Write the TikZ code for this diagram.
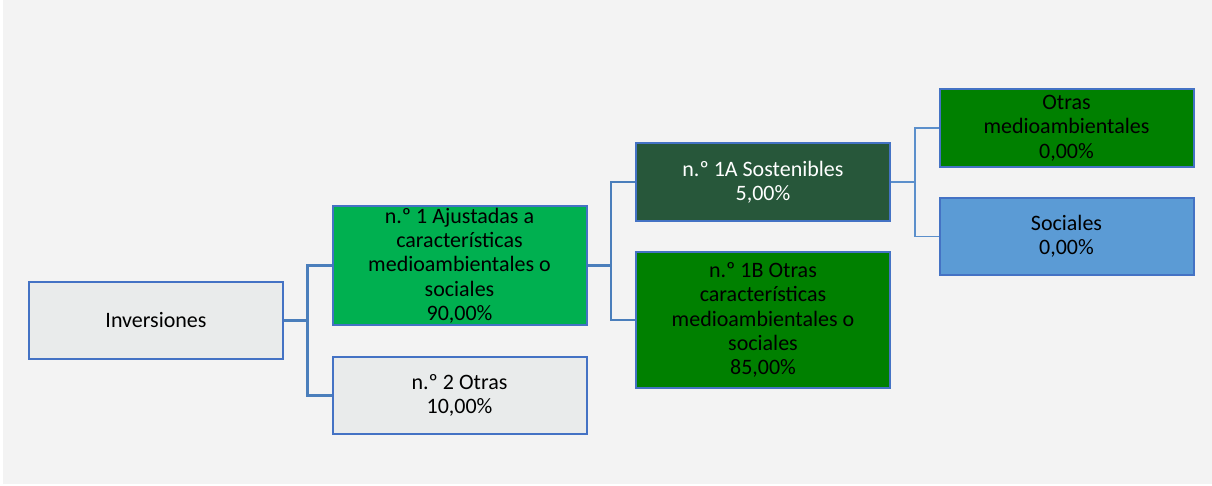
\documentclass[tikz,border=0pt]{standalone}
\usepackage{fontspec}
\setmainfont{Carlito}
\usepackage{xcolor}
\usepackage{tikz}
\usetikzlibrary{calc}
\definecolor{fondo}{HTML}{F3F3F3}
\definecolor{gris}{HTML}{E9EBEB}
\definecolor{borde}{HTML}{4472C4}
\definecolor{linea}{HTML}{4A7EBB}
\definecolor{lineaclara}{HTML}{5B8FCB}
\definecolor{verde}{HTML}{00B050}
\definecolor{verdeosc}{HTML}{27573A}
\definecolor{verdemed}{HTML}{008000}
\definecolor{azul}{HTML}{5B9BD5}
\tikzset{
    caja/.style={draw=borde,line width=2pt,inner sep=0pt,minimum width=254pt,
        minimum height=77pt,align=center,font=\fontsize{22}{24.3}\selectfont},
    conn/.style={draw=linea,line width=2.2pt},
    connb/.style={draw=lineaclara,line width=1.8pt}
}

\begin{document}
\begin{tikzpicture}[x=1pt,y=-1pt]
        \useasboundingbox (0,0) rectangle (1212,486);
        \fill[white] (0,0) rectangle (1212,486);
        \fill[fondo] (3,0) rectangle (1212,484);
        \node[caja,fill=gris] (inv) at (156,320.5) {Inversiones};
        \node[caja,fill=verde,minimum height=119pt] (n1) at (459.5,265.5)
            {n.º 1 Ajustadas a\\características\\medioambientales o\\sociales\\90,00\%};
        \node[caja,fill=gris] (n2) at (459.5,395.5) {n.º 2 Otras\\10,00\%};
        \node[caja,fill=verdeosc,text=white,minimum height=78pt] (n1A) at (763,182)
            {n.º 1A Sostenibles\\5,00\%};
        \node[caja,fill=verdemed,minimum height=136pt] (n1B) at (763,320)
            {n.º 1B Otras\\características\\medioambientales o\\sociales\\85,00\%};
        \node[caja,fill=verdemed,minimum height=78pt] (om) at (1066.5,128)
            {Otras\\medioambientales\\0,00\%};
        \node[caja,fill=azul] (soc) at (1066.5,236.5) {Sociales\\0,00\%};
        % ramas
        \coordinate (J1) at (307.5,0);
        \coordinate (J2) at (611,0);
        \coordinate (J3) at (915,0);
        \draw[conn] (inv.east) -- (J1 |- inv.east);
        \draw[conn] (J1 |- inv.east) |- (n1.west);
        \draw[conn] (J1 |- inv.east) |- (n2.west);
        \draw[conn] (n1.east) -- (J2 |- n1.east);
        \draw[conn] (J2 |- n1.east) |- (n1A.west);
        \draw[conn] (J2 |- n1.east) |- (n1B.west);
        \draw[connb] (n1A.east) -- (J3 |- n1A.east);
        \draw[connb] (J3 |- n1A.east) |- (om.west);
        \draw[connb] (J3 |- n1A.east) |- (soc.west);
    \end{tikzpicture}
\end{document}
